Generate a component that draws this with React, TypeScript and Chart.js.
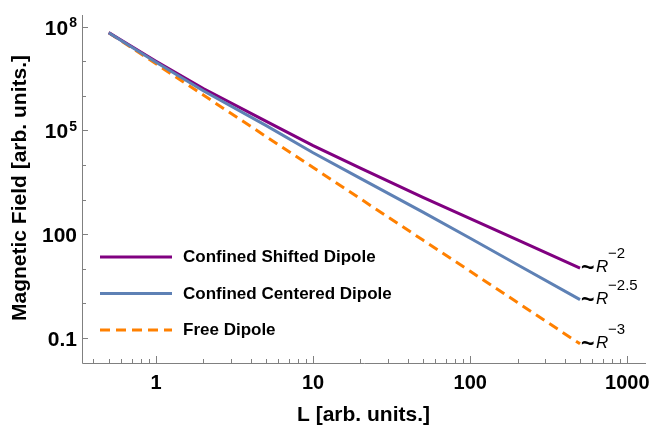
import React, { useEffect, useRef } from "react";
import { Chart, registerables } from "chart.js";

Chart.register(...registerables);

// ---- data ----
const L_VALUES = [0.5, 1, 2, 5, 10, 20, 50, 100, 200, 500];
const SHIFTED = [6.7e7, 1.0e7, 1.62e6, 1.86e5, 3.63e4, 8.13e3, 1.15e3, 282, 67.6, 10.4];
const CENTERED = [6.7e7, 9.3e6, 1.4e6, 1.39e5, 2.25e4, 4.08e3, 430, 75.7, 13.0, 1.27];
const FREE = [6.7e7, 8.4e6, 1.05e6, 6.7e4, 8.4e3, 1.05e3, 67, 8.4, 1.05, 0.067];

const SERIES_LABELS = ["Confined Shifted Dipole", "Confined Centered Dipole", "Free Dipole"];
const SERIES_COLORS = ["#800080", "#5E81B5", "#FF8000"];
const SCALING_BASE = "R";
const SCALING_EXPONENTS = ["\u22122", "\u22122.5", "\u22123"];

const X_MIN = 0.338;
const X_MAX = 1315;
const Y_MIN = 0.0187;
const Y_MAX = 2.17e8;

const X_MAJOR = [1, 10, 100, 1000];
const X_LABELS = ["1", "10", "100", "1000"];
const X_MINOR = [
  0.4, 0.5, 0.6, 0.7, 0.8, 0.9,
  2, 3, 4, 5, 6, 7, 8, 9,
  20, 30, 40, 50, 60, 70, 80, 90,
  200, 300, 400, 500, 600, 700, 800, 900,
];
const Y_TICKS = [0.1, 1, 10, 100, 1e3, 1e4, 1e5, 1e6, 1e7, 1e8];
const Y_LABEL_VALUES = [1e8, 1e5, 100, 0.1];
const Y_LABEL_BASES = ["10", "10", "100", "0.1"];
const Y_LABEL_EXPS = ["8", "5", "", ""];

const X_TITLE = "L [arb. units.]";
const Y_TITLE = "Magnetic Field [arb. units.]";

const FONT = "'Liberation Sans', Arial, sans-serif";
const AXIS_COLOR = "#808080";

const decorPlugin = {
  id: "decor",
  afterDraw(chart: any) {
    const ctx: CanvasRenderingContext2D = chart.ctx;
    const xs = chart.scales.x;
    const ys = chart.scales.y;
    const { left, right, top, bottom } = chart.chartArea;
    ctx.save();

    // axes
    ctx.strokeStyle = AXIS_COLOR;
    ctx.lineWidth = 1;
    ctx.beginPath();
    ctx.moveTo(left + 0.5, top);
    ctx.lineTo(left + 0.5, bottom + 0.5);
    ctx.lineTo(right, bottom + 0.5);
    ctx.stroke();

    // x ticks (inward)
    ctx.beginPath();
    X_MAJOR.forEach((v) => {
      const px = Math.round(xs.getPixelForValue(v)) + 0.5;
      ctx.moveTo(px, bottom);
      ctx.lineTo(px, bottom - 7);
    });
    X_MINOR.forEach((v) => {
      const px = Math.round(xs.getPixelForValue(v)) + 0.5;
      ctx.moveTo(px, bottom);
      ctx.lineTo(px, bottom - 4);
    });
    // y ticks (inward)
    Y_TICKS.forEach((v) => {
      const py = Math.round(ys.getPixelForValue(v)) + 0.5;
      const len = Y_LABEL_VALUES.includes(v) ? 6 : 4;
      ctx.moveTo(left, py);
      ctx.lineTo(left + len, py);
    });
    ctx.stroke();

    ctx.fillStyle = "#000";
    // x tick labels
    ctx.font = `bold 20px ${FONT}`;
    ctx.textAlign = "center";
    ctx.textBaseline = "alphabetic";
    X_MAJOR.forEach((v, i) => {
      ctx.fillText(X_LABELS[i], xs.getPixelForValue(v), 389);
    });

    // y tick labels
    Y_LABEL_VALUES.forEach((v, i) => {
      const py = ys.getPixelForValue(v);
      const base = Y_LABEL_BASES[i];
      const exp = Y_LABEL_EXPS[i];
      ctx.textAlign = "left";
      ctx.font = `bold 21px ${FONT}`;
      const bw = ctx.measureText(base).width;
      ctx.font = `bold 14px ${FONT}`;
      const ew = exp ? ctx.measureText(exp).width + 1 : 0;
      const x0 = 77 - bw - ew;
      ctx.font = `bold 21px ${FONT}`;
      ctx.fillText(base, x0, py + 8);
      if (exp) {
        ctx.font = `bold 14px ${FONT}`;
        ctx.fillText(exp, x0 + bw + 1, py + 0.5);
      }
    });

    // axis titles
    ctx.font = `bold 21px ${FONT}`;
    ctx.textAlign = "center";
    ctx.fillText(X_TITLE, 363.5, 421);
    ctx.save();
    ctx.translate(25.5, 188);
    ctx.rotate(-Math.PI / 2);
    ctx.fillText(Y_TITLE, 0, 0);
    ctx.restore();

    // legend
    chart.data.datasets.forEach((ds: any, i: number) => {
      const ly = 257 + i * 36.5;
      ctx.save();
      ctx.strokeStyle = ds.borderColor;
      ctx.lineWidth = 3;
      ctx.setLineDash(ds.borderDash || []);
      ctx.beginPath();
      ctx.moveTo(100, ly);
      ctx.lineTo(172, ly);
      ctx.stroke();
      ctx.restore();
      ctx.fillStyle = "#000";
      ctx.font = `bold 17px ${FONT}`;
      ctx.textAlign = "left";
      ctx.textBaseline = "middle";
      ctx.fillText(ds.label, 183, ly + 0.5);
    });

    // scaling annotations at line ends
    ctx.textBaseline = "alphabetic";
    ctx.textAlign = "left";
    chart.data.datasets.forEach((ds: any, i: number) => {
      const last = ds.data[ds.data.length - 1];
      const px = xs.getPixelForValue(last.x);
      const py = ys.getPixelForValue(last.y);
      ctx.font = `bold 23px ${FONT}`;
      ctx.fillText("~", px + 1, py + 7);
      ctx.font = `italic 17px ${FONT}`;
      ctx.fillText(SCALING_BASE, px + 16, py + 4);
      ctx.font = `15px ${FONT}`;
      ctx.fillText(SCALING_EXPONENTS[i], px + 28, py - 10);
    });

    ctx.restore();
  },
};

export default function App() {
  const ref = useRef<HTMLCanvasElement | null>(null);
  useEffect(() => {
    document.body.style.margin = "0";
    const canvas = ref.current;
    if (!canvas) return;
    const series = [SHIFTED, CENTERED, FREE];
    const chart = new Chart(canvas, {
      type: "line",
      data: {
        datasets: series.map((vals, i) => ({
          label: SERIES_LABELS[i],
          data: L_VALUES.map((x, j) => ({ x, y: vals[j] })),
          borderColor: SERIES_COLORS[i],
          backgroundColor: SERIES_COLORS[i],
          borderWidth: 3,
          pointRadius: 0,
          pointHoverRadius: 0,
          fill: false,
          tension: 0,
          borderDash: i === 2 ? [10, 6] : [],
          order: i === 1 ? 0 : i === 0 ? 1 : 2,
        })),
      },
      options: {
        responsive: false,
        animation: false,
        layout: { autoPadding: false, padding: { left: 82, top: 15, right: 7, bottom: 66 } },
        plugins: { legend: { display: false }, tooltip: { enabled: false } },
        scales: {
          x: { type: "logarithmic", bounds: "data", min: X_MIN, max: X_MAX, display: false },
          y: { type: "logarithmic", bounds: "data", min: Y_MIN, max: Y_MAX, display: false },
        },
      },
      plugins: [decorPlugin],
    });
    return () => chart.destroy();
  }, []);
  return <canvas ref={ref} width={653} height={429} style={{ display: "block" }} />;
}
